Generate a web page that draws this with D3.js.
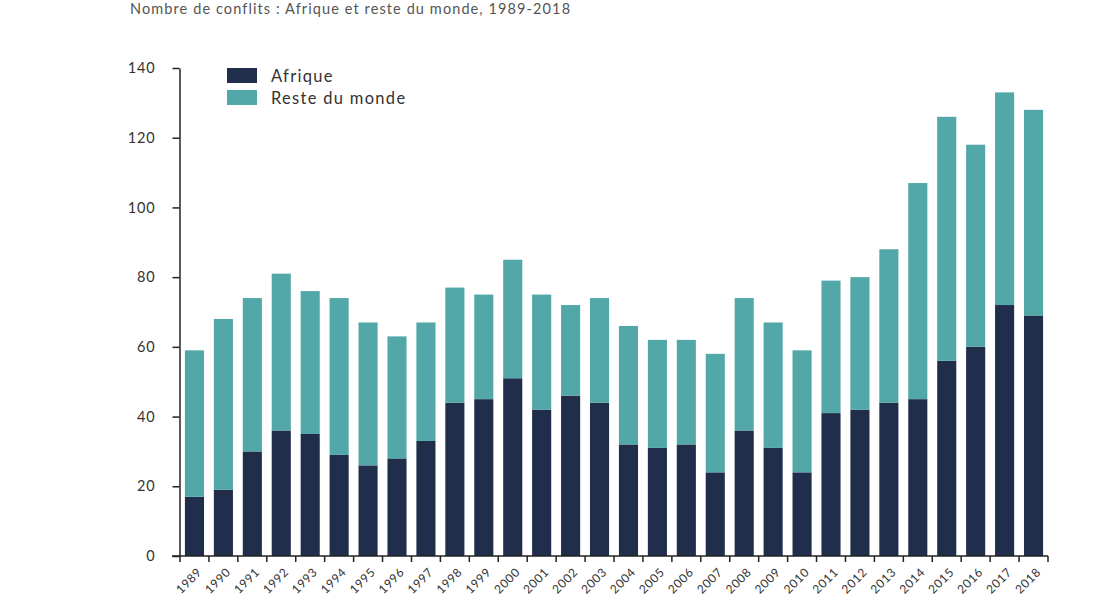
<!DOCTYPE html>
<html>
<head>
<meta charset="utf-8">
<script src="https://cdn.jsdelivr.net/npm/d3@7"></script>
<style>
  body { margin: 0; background: #fff; }
  text { font-family: "Lato", "Noto Sans", sans-serif; }
</style>
</head>
<body>
<script>
// Data
var years = ["1989","1990","1991","1992","1993","1994","1995","1996","1997","1998",
             "1999","2000","2001","2002","2003","2004","2005","2006","2007","2008",
             "2009","2010","2011","2012","2013","2014","2015","2016","2017","2018"];
var afrique = [17,19,30,36,35,29,26,28,33,44,45,51,42,46,44,32,31,32,24,36,31,24,41,42,44,45,56,60,72,69];
var totals  = [59,68,74,81,76,74,67,63,67,77,75,85,75,72,74,66,62,62,58,74,67,59,79,80,88,107,126,118,133,128];
var yTicks = [0,20,40,60,80,100,120,140];
var seriesNames = ["Afrique","Reste du monde"];
var seriesColors = ["#212e4b","#52a8a8"];

var width = 1103, height = 596;

var svg = d3.select("body").append("svg")
    .attr("width", width)
    .attr("height", height);

//title
svg.append("text")
    .attr("x", 130).attr("y", 14)
    .attr("font-size", "14.5px")
    .attr("fill", "#555")
    .attr("letter-spacing", "1.1px")
    .text("Nombre de conflits : Afrique et reste du monde, 1989-2018");

//scales
var x = d3.scaleBand()
    .domain(years)
    .range([180, 1048])
    .paddingInner(0.34)
    .paddingOuter(0.17);

var y = d3.scaleLinear()
    .domain([0, 140])
    .range([556, 68]);

//stacking the two series
var rows = years.map(function(yr, i){
    return {year: yr, afrique: afrique[i], reste: totals[i] - afrique[i]};
});
var stack = d3.stack().keys(["afrique","reste"]);
var layers = stack(rows);

svg.append("g").selectAll("g")
    .data(layers)
    .enter().append("g")
    .attr("fill", function(d, i){ return seriesColors[i]; })
    .selectAll("rect")
    .data(function(d){ return d; })
    .enter().append("rect")
    .attr("x", function(d){ return x(d.data.year); })
    .attr("width", x.bandwidth())
    .attr("y", function(d){ return y(d[1]); })
    .attr("height", function(d){ return y(d[0]) - y(d[1]); });

//y axis
var yAxis = svg.append("g")
    .attr("transform", "translate(179.5,0)")
    .call(d3.axisLeft(y).tickValues(yTicks).tickSize(7).tickPadding(17).tickSizeOuter(0));
yAxis.select(".domain").attr("stroke", "#222").attr("stroke-width", 1.5);
yAxis.selectAll(".tick line").attr("stroke", "#222").attr("stroke-width", 1.5);
yAxis.selectAll(".tick text")
    .attr("font-family", "Lato, 'Noto Sans', sans-serif")
    .attr("font-size", "14.5px")
    .attr("letter-spacing", "0.8px")
    .attr("fill", "#333");

//x axis line
svg.append("line")
    .attr("x1", 172).attr("x2", 1048)
    .attr("y1", 556).attr("y2", 556)
    .attr("stroke", "#222").attr("stroke-width", 1.5);

//x ticks sit between bars
var bounds = years.map(function(yr){ return x(yr) - x.step() * 0.17; });
bounds.push(x(years[years.length - 1]) + x.bandwidth() + x.step() * 0.17);
svg.append("g").selectAll("line")
    .data(bounds)
    .enter().append("line")
    .attr("x1", function(d){ return d; }).attr("x2", function(d){ return d; })
    .attr("y1", 556).attr("y2", 562)
    .attr("stroke", "#222").attr("stroke-width", 1.5);

//x labels rotated
var xAxis = svg.append("g")
    .attr("transform", "translate(0,556)")
    .call(d3.axisBottom(x).tickSize(0).tickPadding(0));
xAxis.select(".domain").remove();
xAxis.selectAll(".tick text")
    .attr("font-family", "Lato, 'Noto Sans', sans-serif")
    .attr("font-size", "12px")
    .attr("letter-spacing", "0.6px")
    .attr("fill", "#333")
    .attr("text-anchor", "end")
    .attr("dy", null)
    .attr("transform", "translate(8,17) rotate(-45)");

//legend
var legend = svg.append("g").selectAll("g")
    .data(seriesNames)
    .enter().append("g")
    .attr("transform", function(d, i){ return "translate(227," + (68 + i * 22) + ")"; });
legend.append("rect")
    .attr("width", 30).attr("height", 15)
    .attr("fill", function(d, i){ return seriesColors[i]; });
legend.append("text")
    .attr("x", 44).attr("y", 14)
    .attr("font-size", "16.5px")
    .attr("letter-spacing", "1.3px")
    .attr("fill", "#333")
    .text(function(d){ return d; });
</script>
</body>
</html>
